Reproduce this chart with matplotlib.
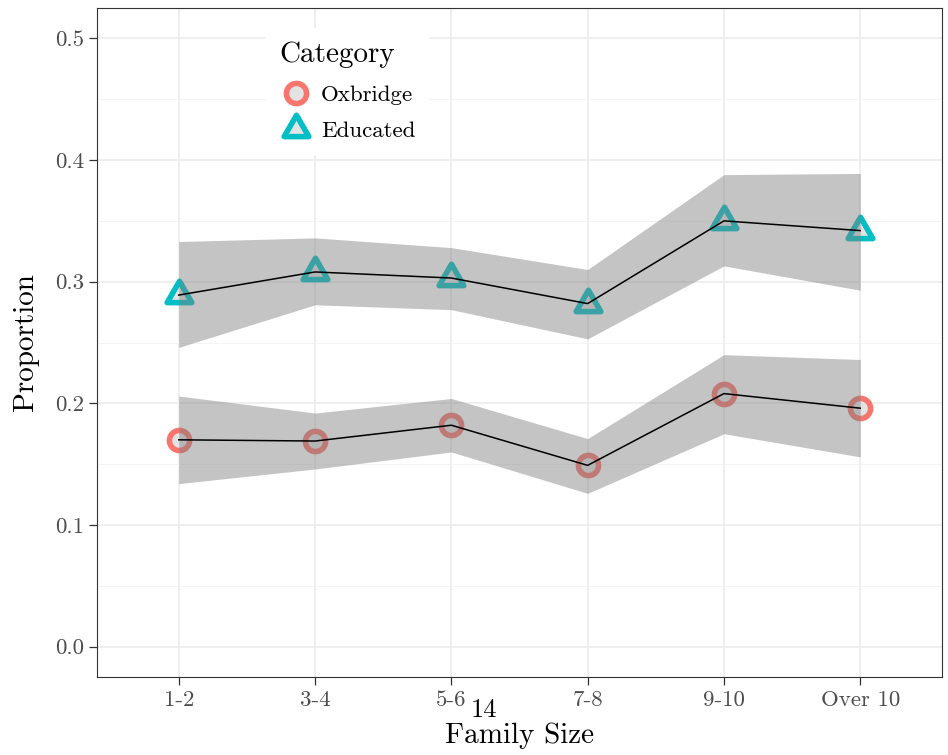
import matplotlib
matplotlib.use("Agg")
import matplotlib.pyplot as plt
from matplotlib.lines import Line2D
from matplotlib.markers import MarkerStyle
from matplotlib.path import Path
import numpy as np

# data
sizes = ["1-2", "3-4", "5-6", "7-8", "9-10", "Over 10"]

oxbridge = [0.170, 0.169, 0.182, 0.149, 0.208, 0.196]
oxbridge_lo = [0.134, 0.146, 0.160, 0.126, 0.175, 0.156]
oxbridge_hi = [0.206, 0.192, 0.204, 0.171, 0.240, 0.236]

educated = [0.289, 0.308, 0.303, 0.282, 0.350, 0.342]
educated_lo = [0.246, 0.281, 0.277, 0.253, 0.313, 0.293]
educated_hi = [0.333, 0.336, 0.328, 0.310, 0.388, 0.389]

RED = "#F8766D"
TEAL = "#00BFC4"
FILL = "#E3E3E3"

plt.rcParams["font.family"] = ["cmr10", "DejaVu Serif"]
plt.rcParams["axes.formatter.use_mathtext"] = True

tri = MarkerStyle(Path([(0, 1), (-0.866, -0.5), (0.866, -0.5), (0, 1)],
                       [Path.MOVETO, Path.LINETO, Path.LINETO, Path.CLOSEPOLY]),
                  joinstyle="miter")


def main():
    fig = plt.figure(figsize=(9.48, 7.55), dpi=100)
    ax = fig.add_axes([0.1023, 0.1033, 0.8914, 0.8861])
    x = np.arange(len(sizes))

    for ser, lo, hi, col, mk, ms in [
        (oxbridge, oxbridge_lo, oxbridge_hi, RED, "o", 14.5),
        (educated, educated_lo, educated_hi, TEAL, tri, 20.5),
    ]:
        ax.plot(x, ser, linestyle="none", marker=mk, markersize=ms,
                markerfacecolor=FILL, markeredgecolor=col,
                markeredgewidth=4, zorder=3)
        ax.fill_between(x, lo, hi, color="#7F7F7F", alpha=0.46,
                        linewidth=0, zorder=4)
        ax.plot(x, ser, color="black", linewidth=1.1, zorder=5)

    ax.set_xlim(-0.6, len(sizes) - 0.4)
    ax.set_ylim(-0.025, 0.525)
    ax.set_xticks(x)
    ax.set_xticklabels(sizes)
    ax.set_yticks(np.arange(0, 0.51, 0.1))
    ax.set_yticklabels(["%.1f" % v for v in np.arange(0, 0.51, 0.1)])
    ax.set_yticks(np.arange(0.05, 0.5, 0.1), minor=True)

    ax.grid(True, which="major", color="#EBEBEB", linewidth=1.1, zorder=0)
    ax.grid(True, which="minor", axis="y", color="#F2F2F2", linewidth=0.6,
            zorder=0)
    ax.set_axisbelow(True)
    for s in ax.spines.values():
        s.set_color("#333333")
        s.set_linewidth(0.8)
    ax.tick_params(which="major", length=5.5, width=0.9, color="#333333",
                   labelcolor="#4D4D4D", labelsize=16.5, pad=4)
    ax.tick_params(which="minor", length=0)

    ax.set_xlabel("Family Size", fontsize=21, labelpad=9)
    ax.set_ylabel("Proportion", fontsize=21, labelpad=11)

    fig.text(484 / 948, 1 - 710 / 755, "14", fontsize=19, ha="center",
             va="center")

    handles = [
        Line2D([], [], linestyle="none", marker="o", markersize=14.5,
               markerfacecolor=FILL, markeredgecolor=RED, markeredgewidth=4),
        Line2D([], [], linestyle="none", marker=tri, markersize=20.5,
               markerfacecolor=FILL, markeredgecolor=TEAL, markeredgewidth=4),
    ]
    leg = ax.legend(handles, ["Oxbridge", "Educated"], title="Category",
                    loc="upper left", bbox_to_anchor=(0.2, 0.97),
                    borderaxespad=0, frameon=True, fancybox=False,
                    edgecolor="none", facecolor="white", framealpha=1,
                    fontsize=16.5, title_fontsize=21, handlelength=1.4,
                    handletextpad=0.4, labelspacing=0.72, borderpad=0.6)
    leg._legend_box.align = "left"
    leg.set_zorder(6)

    fig.savefig("out.png", dpi=100)


if __name__ == '__main__':
    main()
